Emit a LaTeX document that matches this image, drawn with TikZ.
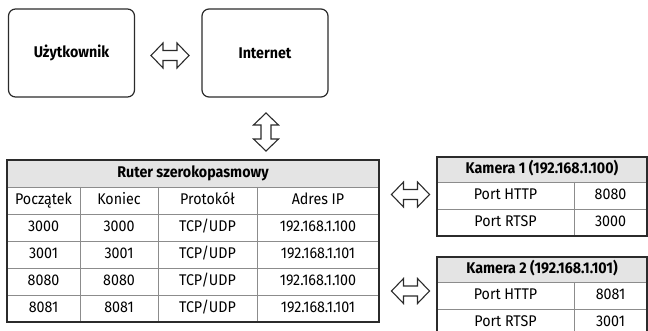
\documentclass[tikz,border=0pt]{standalone}
\usepackage{fontspec}
\setmainfont{Fira Sans}[FakeStretch=0.92]
\definecolor{ramka}{HTML}{2B2B2B}
\definecolor{linia}{HTML}{8C8C8C}
\definecolor{naglowek}{HTML}{E4E4E4}
\newcommand{\rozmiar}{\fontsize{15.5}{17}\selectfont}
\tikzset{
  blok/.style={draw=ramka, line width=1.2pt, rounded corners=7pt, minimum width=126pt, minimum height=88pt, font=\rozmiar\bfseries},
  dwustrzalka/.pic={\draw[ramka, line width=1.1pt, line join=miter, fill=white] (-19,0) -- (-7,-12.5) -- (-7,-5) -- (7,-5) -- (7,-12.5) -- (19,0) -- (7,12.5) -- (7,5) -- (-7,5) -- (-7,12.5) -- cycle;},
  komorka/.style={inner sep=0pt, text height=11pt, text depth=3pt, font=\rozmiar},
  tytul/.style={komorka, font=\rozmiar\bfseries},
  obrys/.style={draw=ramka, line width=1.2pt},
}
\begin{document}
\begin{tikzpicture}[x=1pt,y=-1pt]
\useasboundingbox (0,0) rectangle (648,331);
\clip (0,0) rectangle (648,331);
\node[blok] (uzytkownik) at (71.5,53) {Użytkownik};
\node[blok] (internet) at (265,53) {Internet};
\pic (s1) at (170,55.5) {dwustrzalka};
\pic[rotate=90] (s2) at (266,132) {dwustrzalka};
\fill[naglowek] (7,160) rectangle (379,187);
\foreach \y in {187,214,241,268,295} \draw[linia] (7,\y) -- (379,\y);
\foreach \x in {80,158,257} \draw[linia] (\x,187) -- (\x,322);
\draw[obrys] (7,160) rectangle (379,322);
\node[tytul] (ruter) at (193,173.5) {Ruter szerokopasmowy};
\node[komorka] (poczatek) at (43.5,200.5) {Początek};
\node[komorka] (koniec) at (119,200.5) {Koniec};
\node[komorka] (protokol) at (207.5,200.5) {Protokół};
\node[komorka] (adres) at (318,200.5) {Adres IP};
\foreach \p/\ip [count=\i] in {3000/192.168.1.100, 3001/192.168.1.101, 8080/192.168.1.100, 8081/192.168.1.101} {
  \pgfmathsetmacro\yy{200.5+27*\i}
  \node[komorka] (pocz\i) at (43.5,\yy) {\p};
  \node[komorka] (kon\i) at (119,\yy) {\p};
  \node[komorka] (prot\i) at (207.5,\yy) {TCP/UDP};
  \node[komorka] (ip\i) at (318,\yy) {\ip};
}
\foreach \k/\ip/\http/\rtsp/\t in {1/192.168.1.100/8080/3000/157, 2/192.168.1.101/8081/3001/257} {
  \fill[naglowek] (437,\t) rectangle (647,\t+25);
  \draw[linia] (437,\t+25) -- (647,\t+25);
  \draw[linia] (437,\t+52) -- (647,\t+52);
  \draw[linia] (574,\t+25) -- (574,\t+79);
  \draw[obrys] (437,\t) rectangle (647,\t+79);
  \node[tytul] (kamera\k) at (542,\t+12.5) {Kamera \k\ (\ip)};
  \node[komorka] (http\k) at (505.5,\t+38.5) {Port HTTP};
  \node[komorka] (phttp\k) at (610.5,\t+38.5) {\http};
  \node[komorka] (rtsp\k) at (505.5,\t+65.5) {Port RTSP};
  \node[komorka] (prtsp\k) at (610.5,\t+65.5) {\rtsp};
}
\pic (s3) at (410.5,194.5) {dwustrzalka};
\pic (s4) at (410.5,291) {dwustrzalka};
\end{tikzpicture}
\end{document}
